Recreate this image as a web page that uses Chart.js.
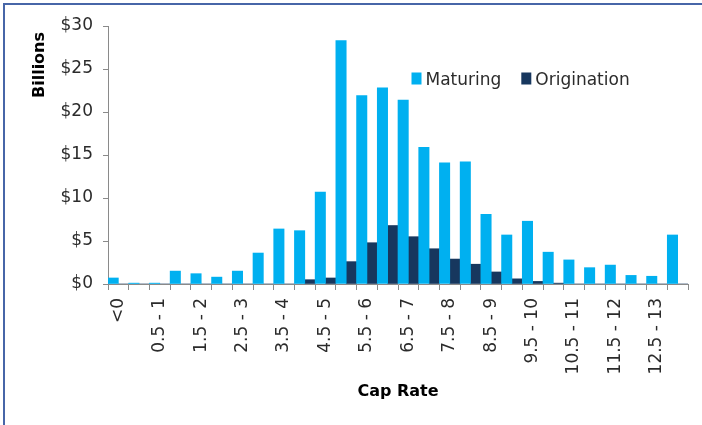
<!DOCTYPE html>
<html>
<head>
<meta charset="utf-8">
<script src="https://cdn.jsdelivr.net/npm/chart.js@4.4.1/dist/chart.umd.min.js"></script>
<style>
  html, body { margin: 0; padding: 0; background: #ffffff; }
  #wrap { position: relative; width: 702px; height: 425px; overflow: hidden; }
  #frame {
    position: absolute; left: 3px; top: 3px; width: 760px; height: 480px;
    border-left: 2px solid #4766a8; border-top: 2px solid #4766a8;
    pointer-events: none;
  }
  canvas { display: block; }
</style>
</head>
<body>
<div id="wrap">
  <canvas id="chart" width="702" height="425"></canvas>
  <div id="frame"></div>
</div>
<script>
// Cap rate buckets
const categories = [
  '<0', '0 - 0.5', '0.5 - 1', '1 - 1.5', '1.5 - 2', '2 - 2.5', '2.5 - 3',
  '3 - 3.5', '3.5 - 4', '4 - 4.5', '4.5 - 5', '5 - 5.5', '5.5 - 6', '6 - 6.5',
  '6.5 - 7', '7 - 7.5', '7.5 - 8', '8 - 8.5', '8.5 - 9', '9 - 9.5', '9.5 - 10',
  '10 - 10.5', '10.5 - 11', '11 - 11.5', '11.5 - 12', '12 - 12.5', '12.5 - 13', '>13'
];

// Loan balances, $ billions
const maturing = [
  0.7, 0.1, 0.1, 1.5, 1.2, 0.8, 1.5, 3.6, 6.4, 6.2, 10.7, 28.3, 21.9, 22.8,
  21.4, 15.9, 14.1, 14.2, 8.1, 5.7, 7.3, 3.7, 2.8, 1.9, 2.2, 1.0, 0.9, 5.7
];
const origination = [
  0, 0, 0, 0, 0, 0, 0, 0, 0, 0.5, 0.7, 2.6, 4.8, 6.8,
  5.5, 4.1, 2.9, 2.3, 1.4, 0.6, 0.3, 0.1, 0, 0, 0, 0, 0, 0
];

const yTicks = [0, 5, 10, 15, 20, 25, 30];

const FONT = 'DejaVu Sans';
const axisGrey = '#8a8a8a';
const textColor = '#2b2b2b';

// Legend drawn inside the plot area, to the right of the peak
const innerLegend = {
  id: 'innerLegend',
  afterDraw(chart) {
    const { ctx, chartArea } = chart;
    ctx.save();
    ctx.font = '17px "' + FONT + '"';
    ctx.textBaseline = 'alphabetic';
    ctx.textAlign = 'left';
    let x = chartArea.left + 303.5;
    const baseY = 85;
    chart.data.datasets.forEach((ds) => {
      ctx.fillStyle = ds.backgroundColor;
      ctx.fillRect(x, 72.5, 10, 12);
      ctx.fillStyle = textColor;
      ctx.fillText(ds.label, x + 14, baseY);
      x += 14 + ctx.measureText(ds.label).width + 20;
    });
    ctx.restore();
  }
};

// Vertical axis caption, set near the top of the axis
const yCaption = {
  id: 'yCaption',
  afterDraw(chart) {
    const { ctx } = chart;
    ctx.save();
    ctx.translate(39.5, 65);
    ctx.rotate(-Math.PI / 2);
    ctx.font = 'bold 16px "' + FONT + '"';
    ctx.fillStyle = '#000000';
    ctx.textAlign = 'center';
    ctx.textBaseline = 'middle';
    ctx.fillText('Billions', 0, 0);
    ctx.restore();
  }
};

new Chart(document.getElementById('chart'), {
  type: 'bar',
  data: {
    labels: categories,
    datasets: [
      {
        label: 'Maturing',
        data: maturing,
        backgroundColor: '#00b0f0',
        borderWidth: 0,
        categoryPercentage: 1.0,
        barPercentage: 1.0
      },
      {
        label: 'Origination',
        data: origination,
        backgroundColor: '#17375e',
        borderWidth: 0,
        categoryPercentage: 1.0,
        barPercentage: 1.0
      }
    ]
  },
  options: {
    responsive: false,
    animation: false,
    layout: { padding: { top: 26, right: 14, left: 0, bottom: 0 } },
    plugins: {
      legend: { display: false },
      tooltip: { enabled: false }
    },
    scales: {
      x: {
        grid: {
          display: true,
          drawOnChartArea: false,
          offset: true,
          tickLength: 6,
          color: axisGrey,
          lineWidth: 1
        },
        border: { display: true, color: axisGrey, width: 1 },
        ticks: {
          autoSkip: false,
          maxRotation: 90,
          minRotation: 90,
          padding: 8,
          color: textColor,
          font: { family: FONT, size: 17 },
          callback: (v, i) => (i % 2 === 0 ? categories[i] : '')
        },
        title: {
          display: true,
          text: 'Cap Rate',
          color: '#000000',
          font: { family: FONT, size: 16, weight: 'bold' },
          padding: { top: 0, bottom: 24 }
        },
        afterFit: (s) => {
          s.height = 141;
          s.paddingLeft = 0;
          s.paddingRight = 0;
        }
      },
      y: {
        min: 0,
        max: 30,
        afterBuildTicks: (s) => { s.ticks = yTicks.map((v) => ({ value: v })); },
        grid: {
          display: true,
          drawOnChartArea: false,
          tickLength: 5,
          color: axisGrey,
          lineWidth: 1
        },
        border: { display: true, color: axisGrey, width: 1 },
        ticks: {
          padding: 10,
          color: textColor,
          font: { family: FONT, size: 17 },
          callback: (v) => '$' + v
        },
        afterFit: (s) => { s.width = 108; }
      }
    }
  },
  plugins: [innerLegend, yCaption]
});
</script>
</body>
</html>
